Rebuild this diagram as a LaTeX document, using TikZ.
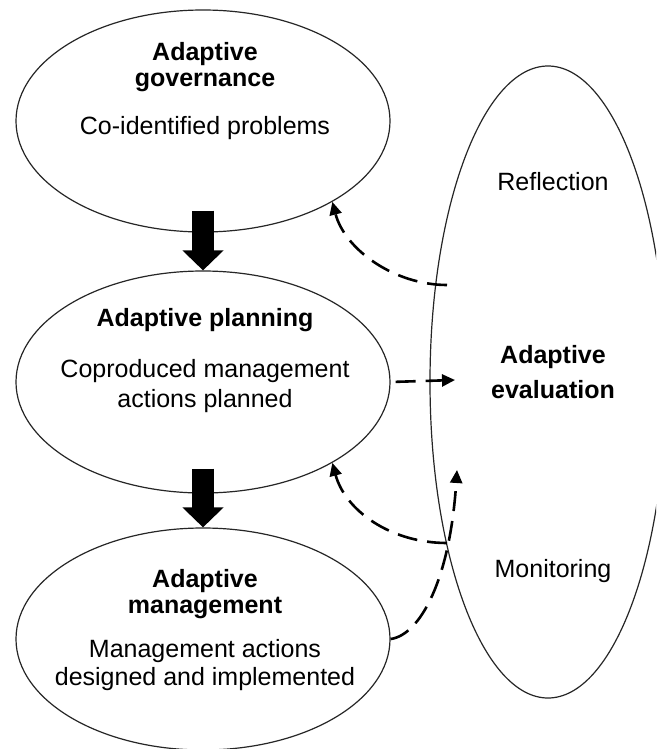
\documentclass[tikz,border=0pt]{standalone}
\usepackage{fontspec}
\setmainfont{Liberation Sans}
\usetikzlibrary{arrows.meta,shapes.geometric,calc}
\begin{document}
\begin{tikzpicture}[x=1pt,y=-1pt,
  oval/.style={draw=black!85, line width=1.2pt, ellipse, inner sep=0pt,
    minimum width=374pt, minimum height=222pt},
  txt/.style={font=\fontsize{25}{30}\selectfont, inner sep=0pt, anchor=base},
  btxt/.style={font=\fontsize{25}{30}\selectfont\bfseries, inner sep=0pt, anchor=base},
  dasharr/.style={line width=2.6pt, dash pattern=on 20pt off 10pt,
    -{Triangle[length=13pt,width=12pt]}},
  blockarr/.style={line width=22pt, -{Triangle[length=20pt,width=40pt]}}
]
\clip (0,0) rectangle (656,749);
\fill[white] (0,0) rectangle (656,749);

% ellipses
\node[oval] (gov) at (203,121) {};
\node[oval] (plan) at (203,382) {};
\node[oval] (mgmt) at (203,639) {};
\node[oval, minimum width=236pt, minimum height=632pt] (eval) at (548,382) {};

% texts
\node[btxt] (g1) at (205,61) {Adaptive};
\node[btxt] (g2) at (205,87) {governance};
\node[txt]  (g3) at (205,135) {Co-identified problems};

\node[btxt] (p1) at (205,326) {Adaptive planning};
\node[txt]  (p2) at (205,377) {Coproduced management};
\node[txt]  (p3) at (205,407) {actions planned};

\node[btxt] (m1) at (205,587) {Adaptive};
\node[btxt] (m2) at (205,613) {management};
\node[txt]  (m3) at (205,657) {Management actions};
\node[txt]  (m4) at (205,685) {designed and implemented};

\node[txt]  (e1) at (553,190) {Reflection};
\node[btxt] (e2) at (553,363) {Adaptive};
\node[btxt] (e3) at (553,398) {evaluation};
\node[txt]  (e4) at (553,577) {Monitoring};

% block arrows
\draw[blockarr] ($(gov.south)+(0,-22)$) -- (plan.north);
\draw[blockarr] ($(plan.south)+(0,-25)$) -- (mgmt.north);

% dashed connectors
\coordinate (r1) at (447,285);
\coordinate (r2) at (455,380);
\coordinate (r3) at (447,543);
\coordinate (r4) at (457,470);

\draw[dasharr] (r1) .. controls (395,285) and (345,250) .. (gov.-32);
\draw[dasharr, shorten <=5pt] (plan.east) -- (r2);
\draw[dasharr] (r3) .. controls (390,543) and (345,510) .. (plan.-32);
\draw[dasharr] (mgmt.east) .. controls (420,635) and (450,580) .. (r4);
\end{tikzpicture}
\end{document}
